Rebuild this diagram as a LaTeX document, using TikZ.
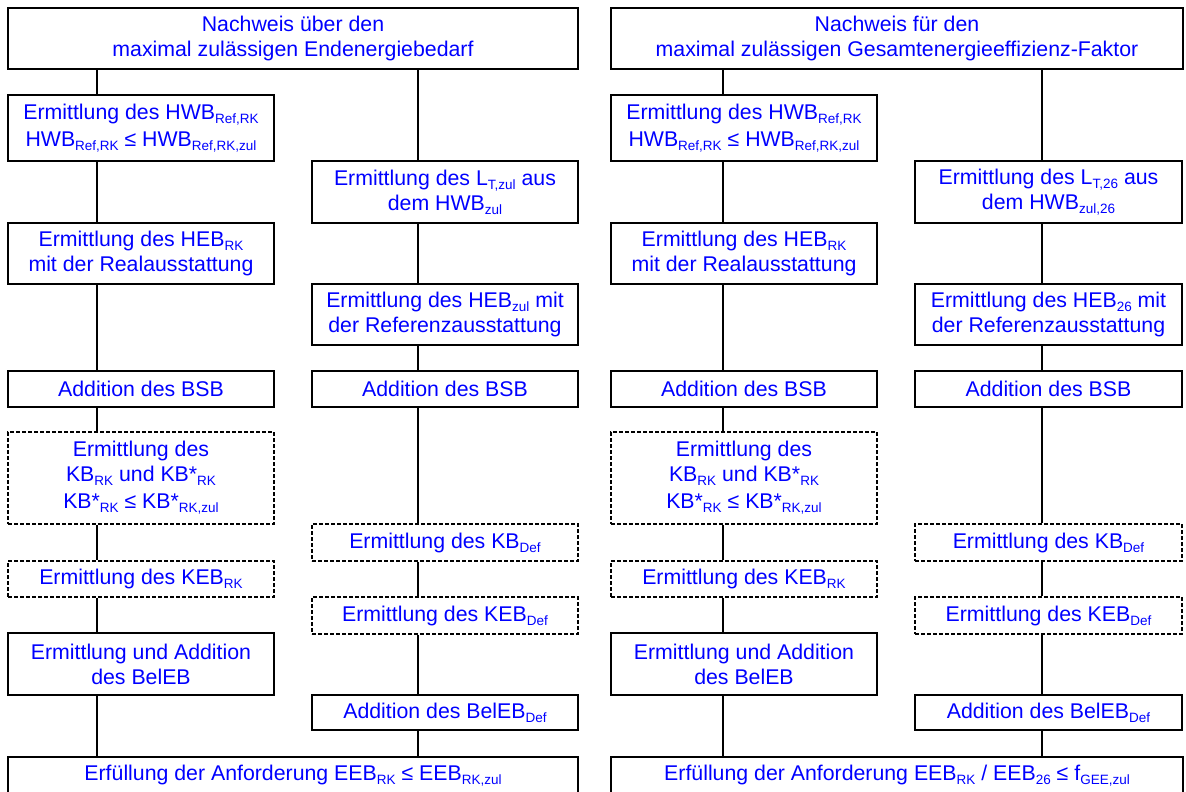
\documentclass[tikz,border=0pt]{standalone}
\usepackage{fontspec}
\setmainfont{Liberation Sans}
\newcommand\mysub[1]{\raisebox{-0.2em}{\fontsize{13.5}{13.5}\selectfont #1}}
\tikzset{
  box/.style={draw, line width=1.8pt, inner sep=0pt, text=blue, align=center,
    font=\fontsize{21.3}{25}\selectfont, minimum height=#1},
  dbox/.style={box=#1, dash pattern=on 4pt off 2pt},
  lcol/.style={minimum width=266pt},
  rcol/.style={minimum width=267pt},
  full/.style={minimum width=570pt},
  conn/.style={line width=1.8pt}
}
\begin{document}
\begin{tikzpicture}[x=1pt,y=-1pt]
\useasboundingbox (0,0) rectangle (1186,792);
\clip (0,0) rectangle (1186,792);
% ---------- left diagram ----------
\coordinate (la) at (97,0);
\coordinate (lb) at (418,0);
\node[box=61pt, full] (Ltop) at (293,38.5) {Nachweis über den\\maximal zulässigen Endenergiebedarf};
\node[box=66pt, lcol] (Lhwb) at (141,128) {Ermittlung des HWB\mysub{Ref,RK}\\[2pt]HWB\mysub{Ref,RK} ≤ HWB\mysub{Ref,RK,zul}};
\node[box=62pt, lcol] (Llt) at (445,192) {Ermittlung des L\mysub{T,zul} aus\\dem HWB\mysub{zul}};
\node[box=61pt, lcol] (Lheb) at (141,253.5) {Ermittlung des HEB\mysub{RK}\\mit der Realausstattung};
\node[box=61pt, lcol] (Lhebr) at (445,314.5) {Ermittlung des HEB\mysub{zul} mit\\der Referenzausstattung};
\node[box=36pt, lcol] (Lbsb) at (141,389) {Addition des BSB};
\node[box=36pt, lcol] (Lbsbr) at (445,389) {Addition des BSB};
\node[dbox=92pt, lcol] (Lkb) at (141,478) {Ermittlung des\\KB\mysub{RK} und KB*\mysub{RK}\\[2pt]KB*\mysub{RK} ≤ KB*\mysub{RK,zul}};
\node[dbox=37pt, lcol] (Lkbr) at (445,542.5) {Ermittlung des KB\mysub{Def}};
\node[dbox=36pt, lcol] (Lkeb) at (141,579) {Ermittlung des KEB\mysub{RK}};
\node[dbox=37pt, lcol] (Lkebr) at (445,615.5) {Ermittlung des KEB\mysub{Def}};
\node[box=62pt, lcol] (Lbel) at (141,664) {Ermittlung und Addition\\des BelEB};
\node[box=35pt, lcol] (Lbelr) at (445,712.5) {Addition des BelEB\mysub{Def}};
\node[box=38pt, full] (Lbot) at (293,776) {Erfüllung der Anforderung EEB\mysub{RK} ≤ EEB\mysub{RK,zul}};
\draw[conn] (Ltop.south -| la) -- (Lhwb.north -| la);
\draw[conn] (Lhwb.south -| la) -- (Lheb.north -| la);
\draw[conn] (Lheb.south -| la) -- (Lbsb.north -| la);
\draw[conn] (Lbsb.south -| la) -- (Lkb.north -| la);
\draw[conn] (Lkb.south -| la) -- (Lkeb.north -| la);
\draw[conn] (Lkeb.south -| la) -- (Lbel.north -| la);
\draw[conn] (Lbel.south -| la) -- (Lbot.north -| la);
\draw[conn] (Ltop.south -| lb) -- (Llt.north -| lb);
\draw[conn] (Llt.south -| lb) -- (Lhebr.north -| lb);
\draw[conn] (Lhebr.south -| lb) -- (Lbsbr.north -| lb);
\draw[conn] (Lbsbr.south -| lb) -- (Lkbr.north -| lb);
\draw[conn] (Lkbr.south -| lb) -- (Lkebr.north -| lb);
\draw[conn] (Lkebr.south -| lb) -- (Lbelr.north -| lb);
\draw[conn] (Lbelr.south -| lb) -- (Lbot.north -| lb);
% ---------- right diagram ----------
\coordinate (ra) at (723,0);
\coordinate (rb) at (1042,0);
\node[box=61pt, full, minimum width=572pt] (Rtop) at (897,38.5) {Nachweis für den\\maximal zulässigen Gesamtenergieeffizienz-Faktor};
\node[box=66pt, lcol] (Rhwb) at (744,128) {Ermittlung des HWB\mysub{Ref,RK}\\[2pt]HWB\mysub{Ref,RK} ≤ HWB\mysub{Ref,RK,zul}};
\node[box=62pt, rcol] (Rlt) at (1048.5,192) {Ermittlung des L\mysub{T,26} aus\\dem HWB\mysub{zul,26}};
\node[box=61pt, lcol] (Rheb) at (744,253.5) {Ermittlung des HEB\mysub{RK}\\mit der Realausstattung};
\node[box=61pt, rcol] (Rhebr) at (1048.5,314.5) {Ermittlung des HEB\mysub{26} mit\\der Referenzausstattung};
\node[box=36pt, lcol] (Rbsb) at (744,389) {Addition des BSB};
\node[box=36pt, rcol] (Rbsbr) at (1048.5,389) {Addition des BSB};
\node[dbox=92pt, lcol] (Rkb) at (744,478) {Ermittlung des\\KB\mysub{RK} und KB*\mysub{RK}\\[2pt]KB*\mysub{RK} ≤ KB*\mysub{RK,zul}};
\node[dbox=37pt, rcol] (Rkbr) at (1048.5,542.5) {Ermittlung des KB\mysub{Def}};
\node[dbox=36pt, lcol] (Rkeb) at (744,579) {Ermittlung des KEB\mysub{RK}};
\node[dbox=37pt, rcol] (Rkebr) at (1048.5,615.5) {Ermittlung des KEB\mysub{Def}};
\node[box=62pt, lcol] (Rbel) at (744,664) {Ermittlung und Addition\\des BelEB};
\node[box=35pt, rcol] (Rbelr) at (1048.5,712.5) {Addition des BelEB\mysub{Def}};
\node[box=38pt, full, minimum width=572pt] (Rbot) at (897,776) {Erfüllung der Anforderung EEB\mysub{RK} / EEB\mysub{26} ≤ f\mysub{GEE,zul}};
\draw[conn] (Rtop.south -| ra) -- (Rhwb.north -| ra);
\draw[conn] (Rhwb.south -| ra) -- (Rheb.north -| ra);
\draw[conn] (Rheb.south -| ra) -- (Rbsb.north -| ra);
\draw[conn] (Rbsb.south -| ra) -- (Rkb.north -| ra);
\draw[conn] (Rkb.south -| ra) -- (Rkeb.north -| ra);
\draw[conn] (Rkeb.south -| ra) -- (Rbel.north -| ra);
\draw[conn] (Rbel.south -| ra) -- (Rbot.north -| ra);
\draw[conn] (Rtop.south -| rb) -- (Rlt.north -| rb);
\draw[conn] (Rlt.south -| rb) -- (Rhebr.north -| rb);
\draw[conn] (Rhebr.south -| rb) -- (Rbsbr.north -| rb);
\draw[conn] (Rbsbr.south -| rb) -- (Rkbr.north -| rb);
\draw[conn] (Rkbr.south -| rb) -- (Rkebr.north -| rb);
\draw[conn] (Rkebr.south -| rb) -- (Rbelr.north -| rb);
\draw[conn] (Rbelr.south -| rb) -- (Rbot.north -| rb);
\end{tikzpicture}
\end{document}
